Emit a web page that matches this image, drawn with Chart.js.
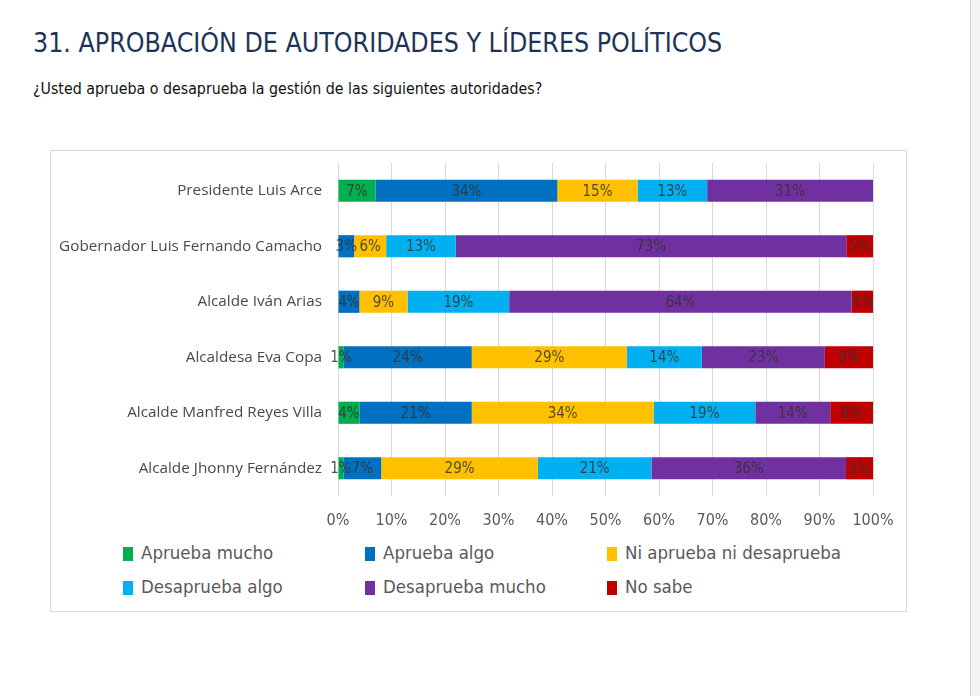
<!DOCTYPE html>
<html>
<head>
<meta charset="utf-8">
<script src="https://cdn.jsdelivr.net/npm/chart.js@4/dist/chart.umd.min.js"></script>
<style>
  html, body { margin: 0; padding: 0; background: #ffffff; width: 980px; height: 696px; overflow: hidden; }
  #title { position: absolute; left: 33px; top: 27px; font-family: 'DejaVu Sans Condensed', 'Liberation Sans', sans-serif; font-size: 26.5px; color: #1f3358; white-space: nowrap; }
  #subtitle { position: absolute; left: 33px; top: 79px; font-family: 'DejaVu Sans Condensed', 'Liberation Sans', sans-serif; font-size: 15.8px; color: #111; white-space: nowrap; }
  #box { position: absolute; left: 50px; top: 150px; width: 857px; height: 462px; border: 1px solid #d9d9d9; box-sizing: border-box; }
  #wrap { position: absolute; left: 51px; top: 151px; width: 855px; height: 385px; }
  #legend { position: absolute; left: 0; top: 0; }
  .li { position: absolute; font-family: 'DejaVu Sans Condensed', 'Liberation Sans', sans-serif; font-size: 18.5px; color: #595959; white-space: nowrap; line-height: 20px; }
  .sw { position: absolute; width: 10px; height: 14px; }
  #scroll { position: absolute; left: 970px; top: 0; width: 10px; height: 696px; background: #f3f3f3; border-left: 1px solid #cfcfcf; }
</style>
</head>
<body>
<div id="title">31. APROBACIÓN DE AUTORIDADES Y LÍDERES POLÍTICOS</div>
<div id="subtitle">¿Usted aprueba o desaprueba la gestión de las siguientes autoridades?</div>
<div id="box"></div>
<div id="wrap"><canvas id="c"></canvas></div>
<div id="legend"></div>
<div id="scroll"></div>
<script>
const categories = [
  'Presidente Luis Arce',
  'Gobernador Luis Fernando Camacho',
  'Alcalde Iván Arias',
  'Alcaldesa Eva Copa',
  'Alcalde Manfred Reyes Villa',
  'Alcalde Jhonny Fernández'
];
const seriesNames = ['Aprueba mucho', 'Aprueba algo', 'Ni aprueba ni desaprueba', 'Desaprueba algo', 'Desaprueba mucho', 'No sabe'];
const seriesColors = ['#00b050', '#0070c0', '#ffc000', '#00b0f0', '#7030a0', '#c00000'];
const apruebaMucho   = [7, 0, 0, 1, 4, 1];
const apruebaAlgo    = [34, 3, 4, 24, 21, 7];
const niNi           = [15, 6, 9, 29, 34, 29];
const desapruebaAlgo = [13, 13, 19, 14, 19, 21];
const desapruebaMucho= [31, 73, 64, 23, 14, 36];
const noSabe         = [0, 5, 4, 9, 8, 5];
const xTicks = [0, 10, 20, 30, 40, 50, 60, 70, 80, 90, 100];

const series = [apruebaMucho, apruebaAlgo, niNi, desapruebaAlgo, desapruebaMucho, noSabe];
const totals = categories.map((_, i) => series.reduce((s, arr) => s + arr[i], 0));

const datasets = series.map((arr, k) => ({
  label: seriesNames[k],
  backgroundColor: seriesColors[k],
  data: arr.map((v, i) => v / totals[i] * 100),
  raw: arr,
  barPercentage: 0.4,
  categoryPercentage: 1.0,
  borderWidth: 0
}));

const labelPlugin = {
  id: 'segLabels',
  afterDatasetsDraw(chart) {
    const ctx = chart.ctx;
    ctx.save();
    ctx.font = "15px 'DejaVu Sans Condensed', 'Liberation Sans', sans-serif";
    ctx.fillStyle = 'rgba(50,50,50,0.85)';
    ctx.textAlign = 'center';
    ctx.textBaseline = 'middle';
    chart.data.datasets.forEach((ds, di) => {
      const meta = chart.getDatasetMeta(di);
      meta.data.forEach((el, i) => {
        const v = ds.raw[i];
        if (!v) return;
        const p = el.getCenterPoint();
        ctx.fillText(v + '%', p.x, p.y + 1);
      });
    });
    ctx.restore();
  }
};

function zeroPad(scale) {
  scale.paddingTop = 0; scale.paddingBottom = 0;
  scale.paddingLeft = 0; scale.paddingRight = 0;
}

const chart = new Chart(document.getElementById('c'), {
  type: 'bar',
  data: { labels: categories, datasets },
  options: {
    indexAxis: 'y',
    responsive: true,
    maintainAspectRatio: false,
    animation: false,
    layout: { padding: { top: 12, right: 33, left: 0, bottom: 0 } },
    plugins: { legend: { display: false }, tooltip: { enabled: false } },
    scales: {
      x: {
        stacked: true,
        min: 0, max: 100,
        afterBuildTicks(scale) { scale.ticks = xTicks.map(v => ({ value: v })); },
        afterFit(scale) { scale.height = 40; zeroPad(scale); },
        grid: { color: '#d9d9d9', drawTicks: false },
        border: { display: false },
        ticks: {
          padding: 15,
          color: '#595959',
          font: { family: "'DejaVu Sans Condensed', 'Liberation Sans', sans-serif", size: 16 },
          callback: v => v + '%'
        }
      },
      y: {
        stacked: true,
        afterFit(scale) { scale.width = 287; zeroPad(scale); },
        grid: { display: false, drawTicks: false },
        border: { display: false },
        ticks: {
          padding: 16,
          color: '#4a4a4a',
          font: { family: "'Open Sans', sans-serif", size: 15.3 }
        }
      }
    }
  },
  plugins: [labelPlugin]
});

// HTML legend built from the chart's datasets
const legendPos = [[123, 546], [365, 546], [607, 546], [123, 580], [365, 580], [607, 580]];
const leg = document.getElementById('legend');
chart.data.datasets.forEach((ds, k) => {
  const [x, y] = legendPos[k];
  const sw = document.createElement('div');
  sw.className = 'sw';
  sw.style.left = x + 'px'; sw.style.top = (y + 1) + 'px';
  sw.style.background = ds.backgroundColor;
  leg.appendChild(sw);
  const t = document.createElement('div');
  t.className = 'li';
  t.style.left = (x + 18) + 'px'; t.style.top = (y - 3) + 'px';
  t.textContent = ds.label;
  leg.appendChild(t);
});
</script>
</body>
</html>
